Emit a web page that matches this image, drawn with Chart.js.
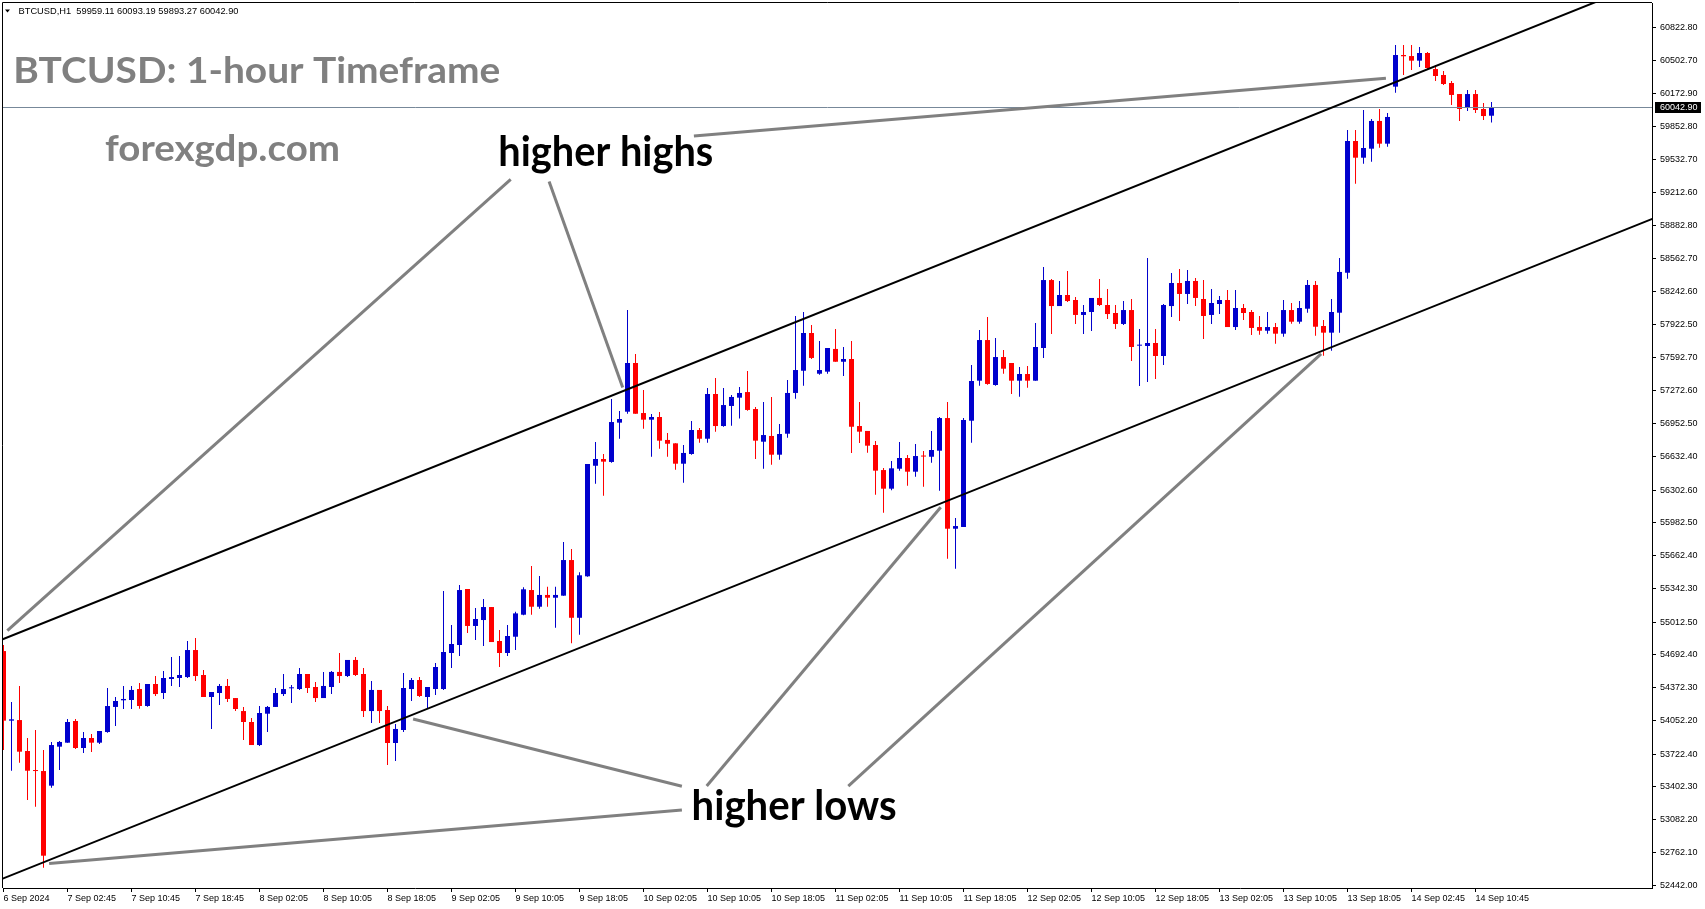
<!DOCTYPE html>
<html>
<head>
<meta charset="utf-8">
<title>BTCUSD H1</title>
<script src="https://cdn.jsdelivr.net/npm/chart.js@4.4.1/dist/chart.umd.min.js"></script>
<style>
  html, body { margin: 0; padding: 0; background: #fff; }
  #wrap { position: relative; width: 1705px; height: 909px; }
</style>
</head>
<body>
<div id="wrap"><canvas id="chart"></canvas></div>
<script>
// time axis labels, one every 8 hourly bars
const timeLabels = ['6 Sep 2024', '7 Sep 02:45', '7 Sep 10:45', '7 Sep 18:45', '8 Sep 02:05', '8 Sep 10:05',
  '8 Sep 18:05', '9 Sep 02:05', '9 Sep 10:05', '9 Sep 18:05', '10 Sep 02:05', '10 Sep 10:05', '10 Sep 18:05',
  '11 Sep 02:05', '11 Sep 10:05', '11 Sep 18:05', '12 Sep 02:05', '12 Sep 10:05', '12 Sep 18:05',
  '13 Sep 02:05', '13 Sep 10:05', '13 Sep 18:05', '14 Sep 02:45', '14 Sep 10:45'];
const labelStep = 8;

const yTicks = [60822.80, 60502.70, 60172.90, 59852.80, 59532.70, 59212.60, 58882.80, 58562.70, 58242.60,
  57922.50, 57592.70, 57272.60, 56952.50, 56632.40, 56302.60, 55982.50, 55662.40, 55342.30, 55012.50,
  54692.40, 54372.30, 54052.20, 53722.40, 53402.30, 53082.20, 52762.10, 52442.00];

// BTCUSD H1 candles
const opens = [54730, 54050, 54056, 53754, 53561, 53558, 53415, 53796, 53835, 54047,
  53783, 53881, 53835, 53939, 54184, 54249, 54252, 54359, 54193, 54408,
  54320, 54457, 54467, 54476, 54740, 54496, 54281, 54320, 54389, 54271,
  54144, 54037, 53812, 54118, 54184, 54310, 54366, 54359, 54506, 54379,
  54271, 54379, 54526, 54486, 54643, 54506, 54144, 54350, 54154, 53832,
  53959, 54359, 54447, 54281, 54359, 54359, 54711, 54789, 55336, 54975,
  55033, 55160, 54828, 54711, 54870, 55085, 55326, 55163, 55278, 55251,
  55271, 55619, 55055, 55460, 56540, 56606, 56577, 56961, 57068, 57544,
  57055, 56990, 57016, 56792, 56759, 56560, 56655, 56889, 56804, 57241,
  56928, 57124, 57205, 57260, 57094, 56775, 56831, 56648, 56853, 57251,
  57468, 57837, 57439, 57459, 57681, 57556, 57583, 56928, 56880, 56743,
  56498, 56316, 56511, 56616, 56482, 56635, 56628, 56687, 57006, 55925,
  55942, 56980, 57371, 57768, 57329, 57602, 57544, 57371, 57436, 57371,
  57690, 58354, 58100, 58208, 58159, 58013, 58042, 58179, 58110, 58032,
  57925, 58061, 57713, 57710, 57739, 57612, 58100, 58325, 58218, 58345,
  58169, 58013, 58120, 58159, 57895, 58081, 58042, 57895, 57859, 57895,
  57830, 58061, 57947, 58074, 58306, 57905, 57840, 58035, 58426, 59712,
  59549, 59637, 59908, 59686, 60243, 60552, 60542, 60497, 60572, 60415,
  60357, 60279, 60171, 60035, 60171, 60025, 59959.11];
const highs = [54789, 54232, 54389, 53881, 53959, 53763, 53842, 53851, 54066, 54066,
  53939, 53920, 53949, 54369, 54281, 54389, 54389, 54418, 54408, 54486,
  54536, 54672, 54682, 54828, 54857, 54545, 54330, 54408, 54457, 54271,
  54184, 54076, 54193, 54193, 54369, 54506, 54398, 54564, 54506, 54428,
  54526, 54536, 54711, 54643, 54672, 54564, 54437, 54350, 54193, 54017,
  54516, 54467, 54476, 54379, 54613, 55317, 54984, 55375, 55336, 55151,
  55238, 55160, 54936, 54984, 55114, 55353, 55561, 55463, 55359, 55359,
  55795, 55727, 55499, 56557, 56772, 56655, 57192, 57075, 58061, 57632,
  57280, 57045, 57065, 56860, 56759, 56743, 56977, 56909, 57300, 57397,
  57300, 57231, 57309, 57466, 57114, 57163, 57212, 56948, 57378, 58003,
  58042, 57915, 57759, 57690, 57876, 57700, 57759, 57163, 56880, 56782,
  56518, 56586, 56772, 56645, 56752, 56684, 56880, 57016, 57163, 56030,
  57006, 57524, 57866, 57993, 57788, 57671, 57544, 57505, 57514, 57934,
  58481, 58364, 58345, 58442, 58188, 58110, 58179, 58364, 58267, 58110,
  58149, 58169, 57876, 58569, 57876, 58120, 58423, 58462, 58452, 58374,
  58354, 58267, 58198, 58257, 58257, 58120, 58061, 58003, 58042, 57934,
  58159, 58130, 58149, 58354, 58345, 57964, 58169, 58569, 59820, 59820,
  60015, 59927, 60025, 59986, 60650, 60650, 60650, 60630, 60582, 60455,
  60396, 60298, 60171, 60210, 60210, 60083, 60093.19];
const lows = [53764, 53561, 53639, 53275, 53210, 52614, 53395, 53568, 53835, 53773,
  53734, 53744, 53822, 53933, 53998, 54164, 54164, 54167, 54187, 54291,
  54262, 54389, 54379, 54467, 54438, 54281, 53969, 54203, 54232, 54145,
  53861, 53812, 53803, 53939, 54184, 54291, 54223, 54350, 54320, 54232,
  54271, 54310, 54418, 54476, 54486, 54086, 54027, 54027, 53617, 53656,
  53939, 54242, 54281, 54174, 54301, 54350, 54564, 54682, 54906, 54838,
  54779, 54818, 54574, 54682, 54740, 55079, 55085, 55144, 55163, 54958,
  55271, 54806, 54890, 55456, 56365, 56247, 56570, 56804, 57048, 57048,
  56902, 56628, 56707, 56628, 56501, 56374, 56648, 56765, 56765, 56873,
  56921, 56931, 57001, 57078, 56606, 56511, 56550, 56599, 56814, 57195,
  57322, 57583, 57429, 57439, 57556, 57417, 56665, 56762, 56667, 56257,
  56081, 56300, 56492, 56345, 56433, 56335, 56570, 56296, 55632, 55534,
  55942, 56765, 57322, 57332, 57322, 57439, 57241, 57214, 57302, 57371,
  57593, 57827, 58100, 58140, 57925, 57827, 57856, 58100, 57973, 57876,
  57915, 57563, 57319, 57358, 57387, 57524, 57993, 57954, 58120, 58100,
  57778, 57925, 58022, 57895, 57866, 57964, 57817, 57820, 57830, 57732,
  57800, 57928, 57928, 58035, 57810, 57615, 57664, 57840, 58367, 59295,
  59490, 59510, 59647, 59656, 60184, 60357, 60406, 60435, 60406, 60298,
  60259, 60064, 59908, 60005, 59986, 59917, 59893.27];
const closes = [54050, 54063, 53747, 53561, 53558, 52731, 53812, 53842, 54037, 53783,
  53881, 53835, 53949, 54193, 54242, 54262, 54350, 54193, 54408, 54310,
  54467, 54476, 54496, 54740, 54486, 54281, 54330, 54389, 54262, 54164,
  54037, 53812, 54125, 54184, 54320, 54359, 54369, 54506, 54369, 54271,
  54389, 54526, 54486, 54643, 54496, 54144, 54350, 54144, 53832, 53969,
  54369, 54447, 54291, 54379, 54574, 54721, 54799, 55326, 54975, 55043,
  55160, 54818, 54711, 54877, 55098, 55333, 55163, 55278, 55251, 55278,
  55619, 55055, 55470, 56557, 56606, 56580, 56967, 56997, 57544, 57048,
  56990, 57016, 56785, 56755, 56560, 56665, 56889, 56804, 57241, 56928,
  57133, 57212, 57251, 57085, 56785, 56840, 56648, 56850, 57251, 57475,
  57837, 57593, 57475, 57690, 57556, 57583, 56921, 56873, 56736, 56492,
  56316, 56515, 56616, 56482, 56635, 56630, 56694, 57006, 55925, 55951,
  56987, 57368, 57768, 57339, 57602, 57488, 57371, 57436, 57371, 57700,
  58354, 58100, 58208, 58149, 58013, 58042, 58179, 58110, 58022, 57925,
  58061, 57700, 57717, 57739, 57612, 58110, 58325, 58218, 58345, 58179,
  58003, 58130, 58159, 57895, 58081, 58032, 57886, 57859, 57895, 57830,
  58061, 57947, 58081, 58306, 57898, 57840, 58042, 58433, 59712, 59549,
  59644, 59908, 59686, 59947, 60552, 60540, 60497, 60572, 60425, 60347,
  60269, 60162, 60025, 60171, 60015, 59956, 60042.90];

const lastBar = { open: 59959.11, high: 60093.19, low: 59893.27, close: 60042.90 };

// trend channel, [bar, price, bar, price]
const channelLines = [
  [-0.2, 54842, 206.1, 61291],
  [-0.2, 52504, 206.1, 58952]
];
// grey pointer lines from the captions
const pointerLines = [
  [0.48, 54929, 63.4, 59337],
  [68.2, 59316, 77.4, 57304],
  [86.3, 59761, 172.8, 60325],
  [51.2, 54066, 84.8, 53410],
  [5.7, 52655, 84.8, 53177],
  [87.9, 53412, 117.15, 56134],
  [105.6, 53410, 164.7, 57632]
];

const bullColor = '#0000cd';
const bearColor = '#ff0000';
const candleColors = opens.map((o, i) => (closes[i] >= o ? bullColor : bearColor));

const wickData = lows.map((l, i) => ({ x: i, y: [l, highs[i]] }));
const bodyData = opens.map((o, i) => ({ x: i, y: [o, closes[i]] }));

function drawFitted(ctx, text, x, baseline, size, width, color) {
  ctx.save();
  ctx.font = 'bold ' + size + 'px Lato, "Open Sans", sans-serif';
  ctx.fillStyle = color;
  ctx.textAlign = 'left';
  ctx.textBaseline = 'alphabetic';
  const w = ctx.measureText(text).width;
  ctx.translate(x, baseline);
  ctx.scale(width / w, 1);
  ctx.fillText(text, 0, 0);
  ctx.restore();
}

const overlay = {
  id: 'overlay',
  beforeDraw(chart) {
    const ctx = chart.ctx;
    ctx.save();
    ctx.fillStyle = '#ffffff';
    ctx.fillRect(0, 0, chart.width, chart.height);
    ctx.restore();
  },
  afterDatasetsDraw(chart) {
    const { ctx, chartArea: a, scales: { x, y } } = chart;
    ctx.save();
    ctx.beginPath();
    ctx.rect(a.left, a.top, a.right - a.left, a.bottom - a.top);
    ctx.clip();

    // last price line
    const py = Math.round(y.getPixelForValue(lastBar.close)) + 0.5;
    ctx.strokeStyle = '#778899';
    ctx.lineWidth = 1;
    ctx.beginPath();
    ctx.moveTo(a.left, py);
    ctx.lineTo(a.right, py);
    ctx.stroke();

    ctx.lineCap = 'butt';
    ctx.strokeStyle = '#808080';
    ctx.lineWidth = 3;
    pointerLines.forEach(l => {
      ctx.beginPath();
      ctx.moveTo(x.getPixelForValue(l[0]), y.getPixelForValue(l[1]));
      ctx.lineTo(x.getPixelForValue(l[2]), y.getPixelForValue(l[3]));
      ctx.stroke();
    });

    ctx.strokeStyle = '#000000';
    ctx.lineWidth = 2;
    channelLines.forEach(l => {
      ctx.beginPath();
      ctx.moveTo(x.getPixelForValue(l[0]), y.getPixelForValue(l[1]));
      ctx.lineTo(x.getPixelForValue(l[2]), y.getPixelForValue(l[3]));
      ctx.stroke();
    });
    ctx.restore();
  },
  afterDraw(chart) {
    const { ctx, chartArea: a, scales: { y } } = chart;

    // frame (left / top)
    ctx.save();
    ctx.strokeStyle = '#000';
    ctx.lineWidth = 1;
    ctx.beginPath();
    ctx.moveTo(a.left - 0.5, a.bottom);
    ctx.lineTo(a.left - 0.5, a.top - 0.5);
    ctx.lineTo(a.right, a.top - 0.5);
    ctx.stroke();

    // header line
    ctx.fillStyle = '#000';
    ctx.beginPath();
    ctx.moveTo(5, 9.5);
    ctx.lineTo(10, 9.5);
    ctx.lineTo(7.5, 12.5);
    ctx.closePath();
    ctx.fill();
    ctx.font = '9px "Liberation Sans", Arial, sans-serif';
    ctx.textBaseline = 'alphabetic';
    const head = 'BTCUSD,H1  ' + lastBar.open.toFixed(2) + ' ' + lastBar.high.toFixed(2) + ' ' +
      lastBar.low.toFixed(2) + ' ' + lastBar.close.toFixed(2);
    const hw = ctx.measureText(head).width;
    ctx.translate(18.5, 14);
    ctx.scale(220 / hw, 1);
    ctx.fillText(head, 0, 0);
    ctx.restore();

    drawFitted(ctx, 'BTCUSD: 1-hour Timeframe', 13.3, 83.3, 37, 487, '#808080');
    drawFitted(ctx, 'forexgdp.com', 105, 161, 36, 235, '#808080');
    drawFitted(ctx, 'higher highs', 498.3, 166, 42, 215, '#000000');
    drawFitted(ctx, 'higher lows', 691.6, 820, 42, 205, '#000000');

    // last price tag on the axis
    const py = Math.round(y.getPixelForValue(lastBar.close));
    ctx.save();
    ctx.fillStyle = '#000';
    ctx.fillRect(a.right + 3, py - 5, 46, 11);
    ctx.fillStyle = '#fff';
    ctx.font = '9px "Liberation Sans", Arial, sans-serif';
    ctx.textBaseline = 'middle';
    ctx.fillText(lastBar.close.toFixed(2), a.right + 8, py + 0.5);
    ctx.restore();
  }
};

const tickFont = { family: '"Liberation Sans", Arial, sans-serif', size: 9 };

new Chart(document.getElementById('chart'), {
  type: 'bar',
  data: {
    datasets: [
      {
        label: 'body',
        data: bodyData,
        backgroundColor: candleColors,
        barThickness: 5,
        minBarLength: 1,
        inflateAmount: 0,
        grouped: false,
        borderWidth: 0
      },
      {
        label: 'wick',
        data: wickData,
        backgroundColor: candleColors,
        barThickness: 1,
        minBarLength: 1,
        inflateAmount: 0,
        grouped: false,
        borderWidth: 0
      }
    ]
  },
  options: {
    responsive: true,
    maintainAspectRatio: false,
    animation: false,
    events: [],
    layout: { padding: { left: 3, top: 3, right: 0, bottom: 0 } },
    plugins: {
      legend: { display: false },
      tooltip: { enabled: false }
    },
    scales: {
      x: {
        type: 'linear',
        position: 'bottom',
        offset: false,
        min: -0.0625,
        max: 206.06,
        afterBuildTicks: (scale) => {
          scale.ticks = timeLabels.map((_, j) => ({ value: j * labelStep }));
        },
        afterFit: (scale) => {
          scale.height = 21;
          scale.paddingLeft = 0;
          scale.paddingRight = 0;
        },
        ticks: {
          autoSkip: false,
          maxRotation: 0,
          minRotation: 0,
          align: 'start',
          padding: 1,
          color: '#000',
          font: tickFont,
          callback: (v) => timeLabels[Math.round(v / labelStep)]
        },
        grid: {
          offset: false,
          drawOnChartArea: false,
          drawTicks: true,
          tickLength: 4,
          color: '#000'
        },
        border: { display: true, color: '#000', width: 1 }
      },
      y: {
        type: 'linear',
        position: 'right',
        min: 52415.5,
        max: 61060.2,
        afterBuildTicks: (scale) => {
          scale.ticks = yTicks.map(v => ({ value: v }));
        },
        afterFit: (scale) => {
          scale.width = 53;
          scale.paddingTop = 0;
          scale.paddingBottom = 0;
        },
        ticks: {
          padding: 4,
          color: '#000',
          font: tickFont,
          callback: (v) => Number(v).toFixed(2)
        },
        grid: {
          drawOnChartArea: false,
          drawTicks: true,
          tickLength: 4,
          color: '#000'
        },
        border: { display: true, color: '#000', width: 1 }
      }
    }
  },
  plugins: [overlay]
});
</script>
</body>
</html>
